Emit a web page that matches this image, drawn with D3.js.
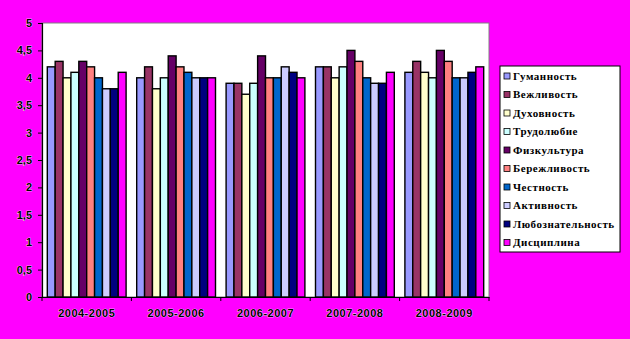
<!DOCTYPE html>
<html>
<head>
<meta charset="utf-8">
<script src="https://cdn.jsdelivr.net/npm/d3@7/dist/d3.min.js"></script>
<style>
  html, body { margin: 0; padding: 0; background: #FF00FF; }
  svg { display: block; }
  .lbl { font-family: Arial, "Liberation Sans", sans-serif; font-weight: bold; font-size: 11px; fill: #000; stroke: #fff; stroke-width: 0.6px; paint-order: stroke; }
  .leg { font-family: "Liberation Serif", "Times New Roman", serif; font-weight: bold; font-size: 11px; fill: #000; letter-spacing: 0.5px; }
</style>
</head>
<body>
<svg id="chart" width="630" height="339"></svg>
<script>
// School years along the x axis
const years = ["2004-2005", "2005-2006", "2006-2007", "2007-2008", "2008-2009"];

// Qualities (one series each) and their fill colours
const qualities = ["Гуманность", "Вежливость", "Духовность", "Трудолюбие", "Физкультура",
                   "Бережливость", "Честность", "Активность", "Любознательность", "Дисциплина"];
const colors = ["#9999FF", "#993366", "#FFFFCC", "#CCFFFF", "#660066",
                "#FF8080", "#0066CC", "#CCCCFF", "#000080", "#FF00FF"];

// Average score per quality, one row per school year
const y2004 = [4.2, 4.3, 4.0, 4.1, 4.3, 4.2, 4.0, 3.8, 3.8, 4.1];
const y2005 = [4.0, 4.2, 3.8, 4.0, 4.4, 4.2, 4.1, 4.0, 4.0, 4.0];
const y2006 = [3.9, 3.9, 3.7, 3.9, 4.4, 4.0, 4.0, 4.2, 4.1, 4.0];
const y2007 = [4.2, 4.2, 4.0, 4.2, 4.5, 4.3, 4.0, 3.9, 3.9, 4.1];
const y2008 = [4.1, 4.3, 4.1, 4.0, 4.5, 4.3, 4.0, 4.0, 4.1, 4.2];
const valuesByYear = [y2004, y2005, y2006, y2007, y2008];

// Value axis ticks (decimal comma)
const yTicks = [0, 0.5, 1, 1.5, 2, 2.5, 3, 3.5, 4, 4.5, 5];
const fmt = v => String(v).replace(".", ",");

const svg = d3.select("#chart");
const plot = { left: 42, top: 23, right: 489, bottom: 297 };

const x0 = d3.scaleBand().domain(years).range([plot.left, plot.right]).padding(0);
const x1 = d3.scaleBand().domain(qualities)
  .range([5.3, x0.bandwidth() - 5.3]).padding(0);
const y = d3.scaleLinear().domain([0, 5]).range([plot.bottom, plot.top]);

// Plot area
svg.append("rect")
  .attr("x", plot.left).attr("y", plot.top)
  .attr("width", plot.right - plot.left).attr("height", plot.bottom - plot.top)
  .attr("fill", "#fff").attr("stroke", "#808080").attr("stroke-width", 1);

// Bars
const groups = svg.append("g").selectAll("g")
  .data(years.map((yr, i) => ({ yr, vals: valuesByYear[i] })))
  .join("g")
  .attr("transform", d => `translate(${x0(d.yr)},0)`);

groups.selectAll("rect")
  .data(d => d.vals.map((v, j) => ({ q: qualities[j], v, c: colors[j] })))
  .join("rect")
  .attr("x", d => x1(d.q))
  .attr("y", d => y(d.v))
  .attr("width", x1.bandwidth())
  .attr("height", d => y(0) - y(d.v))
  .attr("fill", d => d.c)
  .attr("stroke", "#000")
  .attr("stroke-width", 1.4);

// Value axis
const yAxis = svg.append("g")
  .attr("transform", `translate(${plot.left},0)`)
  .call(d3.axisLeft(y).tickValues(yTicks).tickSize(4).tickPadding(6).tickFormat(fmt));
yAxis.select(".domain").attr("stroke", "#000").attr("stroke-width", 1.2);
yAxis.selectAll(".tick line").attr("stroke", "#000");
yAxis.selectAll(".tick text").attr("class", "lbl").attr("font-size", null).attr("font-family", null);

// Category axis
const xAxis = svg.append("g")
  .attr("transform", `translate(0,${plot.bottom})`)
  .call(d3.axisBottom(x0).tickSize(0).tickPadding(12));
xAxis.select(".domain").attr("stroke", "#000").attr("stroke-width", 1.2);
xAxis.selectAll(".tick text").attr("class", "lbl").attr("font-size", null).attr("font-family", null)
  .style("letter-spacing", "0.5px");
// Tick marks sit between the year groups
xAxis.selectAll(".sep")
  .data(years.concat(["end"]))
  .join("line")
  .attr("class", "sep")
  .attr("x1", (d, i) => i < years.length ? x0(d) : plot.right)
  .attr("x2", (d, i) => i < years.length ? x0(d) : plot.right)
  .attr("y1", 0).attr("y2", 4)
  .attr("stroke", "#000");

// Legend
const legend = svg.append("g").attr("transform", "translate(500,66)");
legend.append("rect")
  .attr("width", 120).attr("height", 186)
  .attr("fill", "#fff").attr("stroke", "#000").attr("stroke-width", 1);
const items = legend.selectAll("g.item")
  .data(qualities.map((q, i) => ({ q, c: colors[i] })))
  .join("g")
  .attr("class", "item")
  .attr("transform", (d, i) => `translate(0,${10 + i * 18.5})`);
items.append("rect")
  .attr("x", 4).attr("y", -3).attr("width", 6).attr("height", 6)
  .attr("fill", d => d.c).attr("stroke", "#000").attr("stroke-width", 0.8);
items.append("text")
  .attr("class", "leg")
  .attr("x", 13).attr("y", 0).attr("dy", "0.35em")
  .text(d => d.q);
</script>
</body>
</html>
